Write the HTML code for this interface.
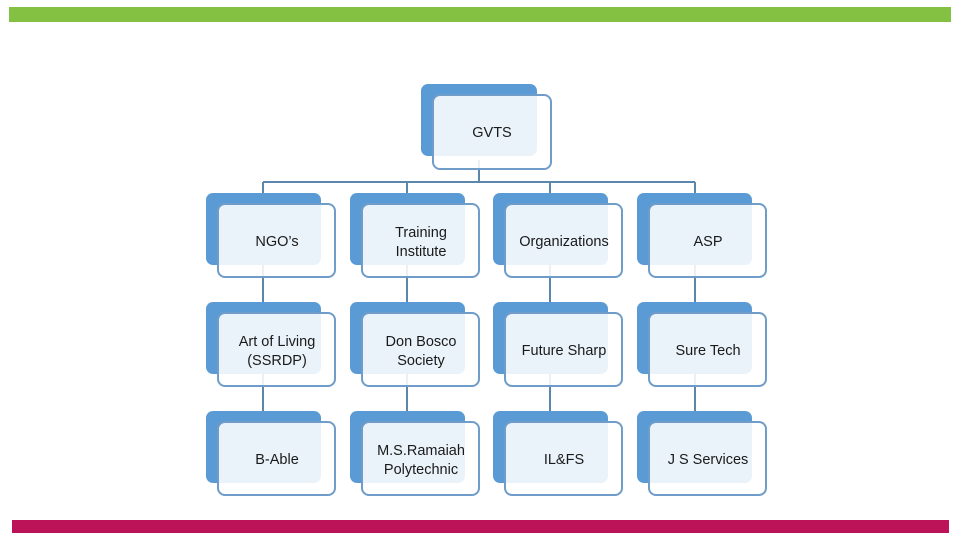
<!DOCTYPE html>
<html><head><meta charset="utf-8"><style>
html,body{margin:0;padding:0;background:#fff;width:960px;height:540px;overflow:hidden}
svg text{font-family:"Liberation Sans",sans-serif;font-size:14.5px;fill:#1a1a1a;text-anchor:middle}
</style></head><body>
<svg width="960" height="540" viewBox="0 0 960 540" xmlns="http://www.w3.org/2000/svg">
<rect x="9" y="7" width="942" height="15" fill="#84c142"/>
<rect x="12" y="520" width="937" height="13" fill="#bb1258"/>
<g stroke="#5b87ad" stroke-width="2" fill="none">
<line x1="479" y1="160" x2="479" y2="182"/>
<line x1="263" y1="182" x2="695" y2="182"/>
<line x1="263" y1="182" x2="263" y2="420"/>
<line x1="407" y1="182" x2="407" y2="420"/>
<line x1="550" y1="182" x2="550" y2="420"/>
<line x1="695" y1="182" x2="695" y2="420"/>
</g>
<g id="boxes"></g>
<!-- GVTS -->
<rect x="421" y="84" width="116" height="72" rx="7" fill="#5b9bd5"/>
<rect x="433" y="95" width="118" height="74" rx="7" fill="rgba(255,255,255,0.88)" stroke="#6f9cc8" stroke-width="2"/>
<text x="492" y="137">GVTS</text>
</svg>
<script>
var cols=[206,350,493,637],rows=[193,302,411];
var labels=[["NGO’s"],["Training","Institute"],["Organizations"],["ASP"],
["Art of Living","(SSRDP)"],["Don Bosco","Society"],["Future Sharp"],["Sure Tech"],
["B-Able"],["M.S.Ramaiah","Polytechnic"],["IL&FS"],["J S Services"]];
var g=document.getElementById("boxes"),ns="http://www.w3.org/2000/svg",s="";
for(var r=0;r<3;r++)for(var c=0;c<4;c++){
var x=cols[c],y=rows[r],L=labels[r*4+c],cx=x+71,cy=y+48;
s+='<rect x="'+x+'" y="'+y+'" width="115" height="72" rx="7" fill="#5b9bd5"/>';
s+='<rect x="'+(x+12)+'" y="'+(y+11)+'" width="117" height="73" rx="7" fill="rgba(255,255,255,0.88)" stroke="#6f9cc8" stroke-width="2"/>';
if(L.length==1)s+='<text x="'+cx+'" y="'+(cy+5)+'">'+L[0].replace("&","&amp;")+'</text>';
else s+='<text x="'+cx+'" y="'+(cy-4)+'">'+L[0]+'</text><text x="'+cx+'" y="'+(cy+15)+'">'+L[1]+'</text>';
}
g.innerHTML=s;
</script>
</body></html>
